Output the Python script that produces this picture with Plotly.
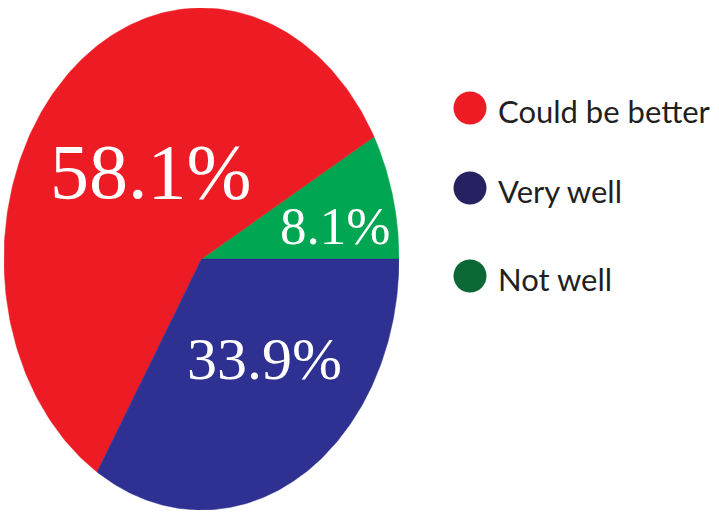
import numpy as np
import plotly.graph_objects as go

# ---- data ----
labels = ["Not well", "Could be better", "Very well"]
values = [8.1, 58.1, 33.9]
slice_colors = ["#00A651", "#ED1C24", "#2E3192"]
label_text = ["8.1%", "58.1%", "33.9%"]

legend_labels = ["Could be better", "Very well", "Not well"]
legend_colors = ["#ED1C24", "#262262", "#0B6836"]

# ---- styling / layout helpers (not data) ----
label_pos = [(0.676, 0.13), (-0.26, 0.35), (0.32, -0.40)]
label_sizes = [53, 78, 60]
legend_x = 470
legend_y = [108, 188, 276]

W, H = 719, 515
fig = go.Figure()

total = sum(values)
start = 0.0
for lab, v, col in zip(labels, values, slice_colors):
    a0 = start
    a1 = start + 2 * np.pi * v / total
    th = np.linspace(a0, a1, 200)
    xs = np.concatenate([[0], np.cos(th), [0]])
    ys = np.concatenate([[0], np.sin(th), [0]])
    fig.add_trace(go.Scatter(x=xs, y=ys, mode="lines", fill="toself",
                             fillcolor=col, line=dict(color=col, width=0.5),
                             name=lab, showlegend=False, hoverinfo="name"))
    start = a1

for (px, py), txt, fs in zip(label_pos, label_text, label_sizes):
    fig.add_annotation(x=px, y=py, xref="x", yref="y", text=txt, showarrow=False,
                       font=dict(family="Liberation Serif, Times New Roman, serif",
                                 size=fs, color="white"),
                       xanchor="center", yanchor="middle")

# manual legend
fig.add_trace(go.Scatter(x=[legend_x] * 3, y=legend_y, xaxis="x2", yaxis="y2",
                         mode="markers",
                         marker=dict(size=33, color=legend_colors, symbol="circle"),
                         showlegend=False, hoverinfo="skip"))
for ly, lt in zip(legend_y, legend_labels):
    fig.add_annotation(x=legend_x + 26, y=ly + 3, xref="x2", yref="y2", text=lt,
                       showarrow=False, xanchor="left", yanchor="middle",
                       font=dict(family="Lato, sans-serif", size=31, color="#231F20"))

fig.update_layout(
    width=W, height=H,
    margin=dict(l=0, r=0, t=0, b=0),
    paper_bgcolor="white", plot_bgcolor="rgba(0,0,0,0)",
    xaxis=dict(domain=[4 / W, 399 / W], range=[-1, 1], visible=False, fixedrange=True,
               anchor="y"),
    yaxis=dict(domain=[1 - 510 / H, 1 - 8 / H], range=[-1, 1], visible=False, fixedrange=True,
               anchor="x"),
    xaxis2=dict(domain=[0, 1], range=[0, W], visible=False, fixedrange=True, anchor="y2"),
    yaxis2=dict(domain=[0, 1], range=[H, 0], visible=False, fixedrange=True, anchor="x2"),
    showlegend=False,
)

fig.write_html("out.html")
